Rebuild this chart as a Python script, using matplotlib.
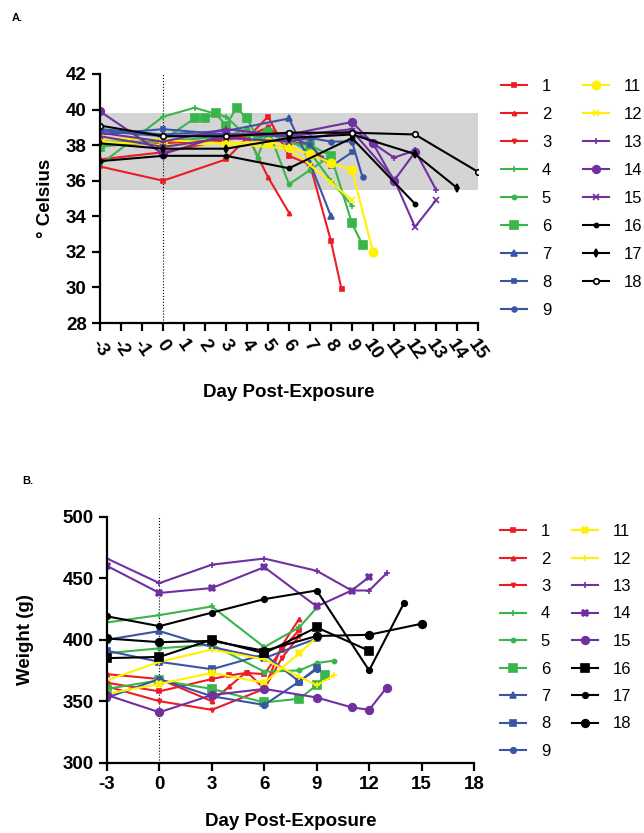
import matplotlib
matplotlib.use("Agg")
import matplotlib.pyplot as plt

plt.rcParams["font.family"] = ["Liberation Sans", "DejaVu Sans"]

# animal labels (no animal 10)
animal_ids = ["1", "2", "3", "4", "5", "6", "7", "8", "9",
              "11", "12", "13", "14", "15", "16", "17", "18"]

# ---- panel A: body temperature (deg C) ----
temp_days = [
    [-3, 0, 3, 4, 5, 6, 7, 8, 8.5],
    [-3, 0, 3, 4, 5, 6],
    [-3, 0, 3, 4, 5, 6, 7, 7.5],
    [-3, 0, 1.5, 3, 4, 5, 6, 7, 8, 9],
    [-3, 0, 3, 4, 4.5, 5, 6, 7, 8],
    [-3, 0, 1.5, 2, 2.5, 3, 3.5, 4, 4.5, 5, 6, 7, 8, 9, 9.5],
    [-3, 0, 3, 6, 7, 8],
    [-3, 0, 3, 6, 7, 8, 9],
    [-3, 0, 3, 6, 7, 8, 9, 9.5],
    [-3, 0, 3, 5, 6, 7, 8, 9, 10],
    [-3, 0, 3, 6, 7, 8, 9],
    [-3, 0, 3, 6, 9, 11, 12, 13],
    [-3, 0, 3, 6, 9, 10, 11, 12],
    [-3, 0, 3, 6, 9, 11, 12, 13],
    [-3, 0, 3, 6, 9, 12],
    [-3, 0, 3, 6, 9, 12, 14],
    [-3, 0, 3, 6, 9, 12, 15],
]
temp_vals = [
    [36.8, 36.0, 37.2, 38.4, 39.6, 37.4, 36.9, 32.6, 29.9],
    [37.2, 37.6, 38.3, 38.6, 36.2, 34.2],
    [38.0, 38.1, 38.3, 38.5, 39.0, 38.2, 38.0, 37.3],
    [36.9, 39.6, 40.1, 39.6, 38.5, 38.8, 38.3, 37.6, 36.0, 34.6],
    [38.2, 38.2, 38.5, 38.9, 37.3, 38.9, 35.8, 36.6, 37.4],
    [37.9, 38.3, 39.5, 39.5, 39.8, 39.1, 40.1, 39.5, 38.4, 38.7, 38.1, 38.0, 37.4, 33.6, 32.4],
    [38.9, 38.6, 38.8, 39.5, 37.0, 34.0],
    [38.6, 38.9, 38.6, 38.5, 38.0, 36.8, 37.6],
    [38.8, 38.5, 38.6, 38.6, 38.4, 38.2, 38.2, 36.2],
    [38.4, 38.3, 38.1, 38.2, 37.9, 37.5, 37.0, 36.6, 32.0],
    [38.2, 38.0, 38.1, 37.8, 36.9, 35.9, 34.9],
    [38.7, 38.2, 38.9, 38.5, 38.9, 37.3, 37.7, 35.5],
    [39.9, 37.5, 38.6, 38.6, 39.3, 38.1, 36.0, 37.6],
    [38.5, 37.9, 38.4, 38.2, 38.8, 36.1, 33.4, 34.9],
    [37.1, 37.4, 37.4, 36.7, 38.4, 34.7],
    [38.1, 37.8, 37.8, 38.4, 38.6, 37.5, 35.6],
    [39.1, 38.5, 38.5, 38.7, 38.7, 38.6, 36.5],
]
normal_range = (35.5, 39.8)
band_days = (-3, 15)

# ---- panel B: body weight (g) ----
weight_days = [
    [-3, 0, 3, 4, 5, 6, 7, 8],
    [-3, 0, 3, 4, 5, 6, 7, 8],
    [-3, 0, 3, 6, 7, 8],
    [-3, 0, 3, 6, 8, 9],
    [-3, 0, 3, 6, 8, 9, 10],
    [-3, 0, 3, 6, 8, 9, 9.5],
    [-3, 0, 3, 6, 9],
    [-3, 0, 3, 6, 8, 9],
    [-3, 0, 3, 6, 8, 9],
    [-3, 0, 3, 6, 8, 9],
    [-3, 0, 3, 6, 8, 9, 10],
    [-3, 0, 3, 6, 9, 11, 12, 13],
    [-3, 0, 3, 6, 9, 11, 12],
    [-3, 0, 3, 6, 9, 11, 12, 13],
    [-3, 0, 3, 6, 9, 12],
    [-3, 0, 3, 6, 9, 12, 14],
    [-3, 0, 3, 6, 9, 12, 15],
]
weight_vals = [
    [365, 358, 368, 371, 373, 372, 392, 408],
    [372, 368, 350, 362, 374, 360, 395, 417],
    [362, 350, 343, 360, 385, 403],
    [414, 420, 427, 394, 410, 426],
    [389, 393, 396, 374, 375, 381, 383],
    [360, 367, 360, 349, 352, 363, 371],
    [400, 407, 394, 385, 401],
    [391, 382, 376, 388, 366, 377],
    [353, 368, 354, 347, 366, 376],
    [356, 364, 373, 365, 389, 402],
    [367, 382, 392, 384, 370, 363, 371],
    [466, 446, 461, 466, 456, 440, 440, 454],
    [460, 438, 442, 459, 427, 440, 451],
    [355, 341, 355, 360, 353, 345, 343, 361],
    [385, 386, 400, 389, 410, 391],
    [419, 411, 422, 433, 440, 375, 430],
    [401, 398, 399, 391, 403, 404, 413],
]

RED, GREEN, BLUE = "#ed1c24", "#39b54a", "#3a55a5"
YELLOW, PURPLE, BLACK = "#fff200", "#7030a0", "#000000"
colors = [RED] * 3 + [GREEN] * 3 + [BLUE] * 3 + [YELLOW] * 2 + [PURPLE] * 3 + [BLACK] * 3

# (marker, size) per animal for each panel
markers_a = [("s", 3), ("^", 3), ("v", 3), ("+", 4), ("o", 3), ("s", 5.5),
             ("^", 4), ("s", 3.5), ("o", 3.5), ("o", 6), ("x", 4),
             ("+", 4), ("o", 5.5), ("x", 4), ("o", 3), ("d", 4), ("o", 4)]
markers_b = [("s", 3.5), ("^", 3), ("v", 3), ("+", 4), ("o", 3), ("s", 5.5),
             ("^", 4), ("s", 4), ("o", 4), ("X", 5), ("+", 4),
             ("+", 4), ("X", 5), ("o", 5.5), ("s", 5.5), ("o", 4), ("o", 5.5)]

fig = plt.figure(figsize=(6.44, 8.33), dpi=100)
ax_a = fig.add_axes([100 / 644, 1 - 323 / 833, 378 / 644, 249 / 833])
ax_b = fig.add_axes([107 / 644, 1 - 762.7 / 833, 367 / 644, 246 / 833])


def style_axis(ax):
    for side in ("top", "right"):
        ax.spines[side].set_visible(False)
    for side in ("left", "bottom"):
        ax.spines[side].set_linewidth(1.6)
    ax.tick_params(width=1.6, length=6, labelsize=13.5, direction="out")
    for lab in ax.get_xticklabels() + ax.get_yticklabels():
        lab.set_fontweight("bold")


# panel A
ax_a.fill_between(band_days, normal_range[0], normal_range[1],
                  color="#d4d4d4", lw=0, zorder=0)
ax_a.axvline(0, color="black", ls=":", lw=0.8, zorder=1)
for i, aid in enumerate(animal_ids):
    mk, ms = markers_a[i]
    mfc = "white" if i == 16 else colors[i]
    ax_a.plot(temp_days[i], temp_vals[i], color=colors[i], lw=1.5,
              marker=mk, ms=ms, mfc=mfc, mec=colors[i], mew=1.2,
              label=aid, zorder=2)
ax_a.set_xlim(-3, 15)
ax_a.set_ylim(28, 42)
ax_a.set_xticks(range(-3, 16))
ax_a.set_xticklabels([str(d) for d in range(-3, 16)], rotation=-55,
                     ha="center", va="top")
ax_a.set_yticks(range(28, 43, 2))
ax_a.set_yticklabels([str(v) for v in range(28, 43, 2)])
style_axis(ax_a)
ax_a.set_xlabel("Day Post-Exposure", fontsize=13.5, fontweight="bold")
ax_a.xaxis.set_label_coords(0.5, -0.245)
ax_a.set_ylabel("° Celsius", fontsize=13.5, fontweight="bold")
ax_a.yaxis.set_label_coords(-0.122, 0.5)
ax_a.legend(loc="upper left", bbox_to_anchor=(501 / 644, 1 - 79 / 833),
            bbox_transform=fig.transFigure, ncol=2, frameon=False,
            fontsize=12, borderpad=0, handlelength=1.55, handletextpad=0.9,
            labelspacing=0.78, columnspacing=1.9, borderaxespad=0)

# panel B
ax_b.axvline(0, color="black", ls=":", lw=0.8, zorder=1)
for i, aid in enumerate(animal_ids):
    mk, ms = markers_b[i]
    ax_b.plot(weight_days[i], weight_vals[i], color=colors[i], lw=1.5,
              marker=mk, ms=ms, mfc=colors[i], mec=colors[i], mew=1.2,
              label=aid, zorder=2)
ax_b.set_xlim(-3, 18)
ax_b.set_ylim(300, 500)
ax_b.set_xticks(range(-3, 19, 3))
ax_b.set_xticklabels([str(d) for d in range(-3, 19, 3)])
ax_b.set_yticks(range(300, 501, 50))
ax_b.set_yticklabels([str(v) for v in range(300, 501, 50)])
style_axis(ax_b)
ax_b.set_xlabel("Day Post-Exposure", fontsize=13.5, fontweight="bold")
ax_b.xaxis.set_label_coords(0.5, -0.205)
ax_b.set_ylabel("Weight (g)", fontsize=13.5, fontweight="bold")
ax_b.yaxis.set_label_coords(-0.2, 0.5)
ax_b.legend(loc="upper left", bbox_to_anchor=(500 / 644, 1 - 524 / 833),
            bbox_transform=fig.transFigure, ncol=2, frameon=False,
            fontsize=12, borderpad=0, handlelength=1.55, handletextpad=0.9,
            labelspacing=0.75, columnspacing=1.3, borderaxespad=0)

fig.text(12 / 644, 1 - 18 / 833, "A.", fontsize=8, fontweight="bold",
         va="center")
fig.text(22 / 644, 1 - 481 / 833, "B.", fontsize=8, fontweight="bold",
         va="center")

fig.savefig("out.png", dpi=100)
